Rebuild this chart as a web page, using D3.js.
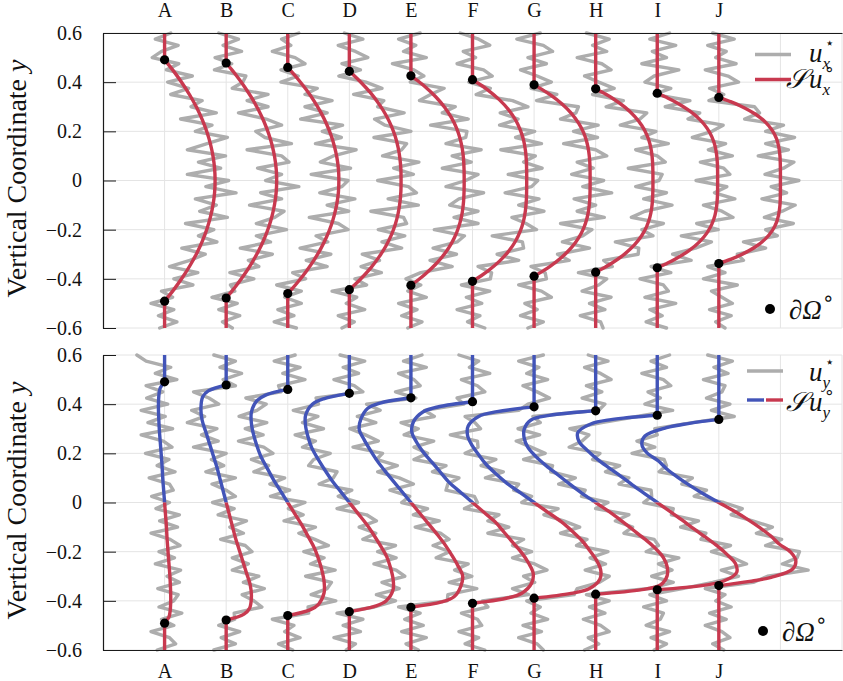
<!DOCTYPE html>
<html><head><meta charset="utf-8">
<script src="https://cdn.jsdelivr.net/npm/d3@7"></script>
<style>body{margin:0;background:#fff}svg{display:block}</style>
</head><body><svg id="c" width="843" height="681"></svg>
<script>
const categories = ["A","B","C","D","E","F","G","H","I","J"];
const positions = [1,2,3,4,5,6,7,8,9,10];
const gridSlots = [1,2,3,4,5,6,7,8,9,10,11,12];
const boundary = [0.491,0.478,0.46,0.444,0.426,0.41,0.389,0.373,0.355,0.338];
const yTicks = [0.6,0.4,0.2,0,-0.2,-0.4,-0.6];
const yTickLabels = ["0.6","0.4","0.2","0","\u22120.2","\u22120.4","\u22120.6"];
const etaNodes = [1,0.95,0.9,0.8,0.7,0.6,0.5,0.4,0.3,0.2,0.1,0,-0.1,-0.2,-0.3,-0.4,-0.5,-0.6,-0.7,-0.8,-0.9,-0.95,-1];

const fitUx = [
[0,.08,.156,.295,.418,.525,.615,.689,.746,.787,.812,.82,.812,.787,.746,.689,.615,.525,.418,.295,.156,.08,0],
[0,.08,.156,.295,.418,.525,.615,.689,.746,.787,.812,.82,.812,.787,.746,.689,.615,.525,.418,.295,.156,.08,0],
[0,.083,.161,.305,.431,.539,.63,.703,.759,.799,.823,.83,.823,.799,.759,.703,.63,.539,.431,.305,.161,.083,0],
[0,.097,.187,.349,.483,.594,.681,.747,.793,.822,.837,.84,.837,.822,.793,.747,.681,.594,.483,.349,.187,.097,0],
[0,.116,.221,.402,.547,.658,.741,.798,.835,.855,.863,.865,.863,.855,.835,.798,.741,.658,.547,.402,.221,.116,0],
[0,.129,.246,.439,.589,.70,.777,.829,.859,.874,.879,.88,.879,.874,.859,.829,.777,.70,.589,.439,.246,.129,0],
[0,.134,.254,.454,.609,.723,.804,.857,.888,.904,.909,.91,.909,.904,.888,.857,.804,.723,.609,.454,.254,.134,0],
[0,.14,.266,.474,.633,.749,.829,.881,.91,.924,.929,.93,.929,.924,.91,.881,.829,.749,.633,.474,.266,.14,0],
[0,.157,.295,.521,.689,.808,.887,.937,.963,.976,.98,.98,.98,.976,.963,.937,.887,.808,.689,.521,.295,.157,0],
[0,.186,.344,.59,.76,.87,.938,.974,.992,.998,1,1,1,.998,.992,.974,.938,.87,.76,.59,.344,.186,0]
];
const fitUy = [
[0,-.07,-.09,-.1,-.095,-.085,-.07,-.055,-.04,-.03,-.015,0,.015,.03,.04,.055,.07,.085,.095,.1,.09,.07,0],
[0,-.29,-.38,-.41,-.39,-.33,-.27,-.21,-.15,-.1,-.05,0,.05,.1,.15,.21,.27,.33,.39,.41,.38,.29,0],
[0,-.36,-.5,-.59,-.59,-.555,-.5,-.43,-.33,-.23,-.115,0,.115,.23,.33,.43,.5,.555,.59,.59,.5,.36,0],
[0,-.42,-.6,-.71,-.71,-.67,-.61,-.51,-.4,-.28,-.14,0,.14,.28,.4,.51,.61,.67,.71,.71,.6,.42,0],
[0,-.5,-.7,-.81,-.84,-.76,-.66,-.55,-.42,-.28,-.14,0,.14,.28,.42,.55,.66,.76,.84,.81,.7,.5,0],
[0,-.55,-.8,-.96,-.985,-.91,-.8,-.66,-.52,-.38,-.19,0,.19,.38,.52,.66,.8,.91,.985,.96,.8,.55,0],
[0,-.6,-.9,-1.07,-1.08,-1.01,-.9,-.78,-.62,-.44,-.22,0,.22,.44,.62,.78,.9,1.01,1.08,1.07,.9,.6,0],
[0,-.75,-1.05,-1.16,-1.16,-1.1,-.97,-.8,-.61,-.42,-.22,0,.22,.42,.61,.8,.97,1.1,1.16,1.16,1.05,.75,0],
[0,-.75,-1.08,-1.29,-1.27,-1.14,-.98,-.79,-.59,-.4,-.2,0,.2,.4,.59,.79,.98,1.14,1.27,1.29,1.08,.75,0],
[0,-.5,-.85,-1.2,-1.25,-1.17,-.98,-.84,-.66,-.46,-.24,0,.24,.46,.66,.84,.98,1.17,1.25,1.2,.85,.5,0]
];

const grayY = [0.6,0.575,0.55,0.525,0.5,0.475,0.45,0.425,0.4,0.375,0.35,0.325,0.3,0.275,0.25,0.225,0.2,0.175,0.15,0.125,0.1,0.075,0.05,0.025,0,-0.025,-0.05,-0.075,-0.1,-0.125,-0.15,-0.175,-0.2,-0.225,-0.25,-0.275,-0.3,-0.325,-0.35,-0.375,-0.4,-0.425,-0.45,-0.475,-0.5,-0.525,-0.55,-0.575,-0.6];

const grayUx = [
[.10,-.15,.22,-.05,-.20,.23,.03,.45,.05,.39,.10,.61,.43,.84,.26,.77,.50,1.02,.69,.37,.99,.55,.91,.37,1.04,.67,1.16,.50,.84,.57,1.02,.34,.80,.55,.85,.28,.66,.41,.08,.54,.15,.46,-.05,.13,-.22,.15,-.10,.20,-.08],
[-.12,.20,-.05,.25,-.18,.09,-.19,.32,.27,.10,.68,.34,.68,.20,.65,.90,.48,.63,1.06,.34,.90,1.02,.51,.90,.64,1.18,.56,.90,.38,.94,.79,.49,.98,.49,.72,.23,.75,.36,.53,.06,.45,.07,.14,-.23,.18,-.12,.22,-.06,.10],
[.18,-.10,.05,-.25,.12,.28,-.11,.17,-.11,.48,.28,.72,.28,.64,.21,.89,.56,.87,.45,1.11,.74,.53,1.02,.38,.98,.88,.52,1.09,.64,.99,.35,.82,.98,.46,.65,.20,.70,.30,.64,.08,.29,-.18,.22,-.05,.22,-.16,.10,-.22,.14],
[-.08,.22,-.18,.10,.30,-.12,.18,-.17,.27,.53,.07,.56,.46,.89,.41,.58,1.00,.40,.93,.85,.54,1.13,.72,1.04,.46,.96,1.09,.63,1.12,.35,.88,.93,.47,.90,.53,.85,.21,.49,.19,.52,.09,.28,-.28,.12,-.05,.25,-.18,.08,-.12],
[.15,-.20,.08,-.12,.25,-.30,.05,.21,-.01,.54,.32,.14,.72,.51,.93,.32,.91,.89,.57,1.14,.67,.98,.51,1.09,.89,.57,1.18,.78,.63,1.09,.70,1.09,.38,.87,.75,.36,.74,.31,.67,.16,-.08,.16,-.05,.25,-.20,.10,-.15,.18,-.05],
[-.20,.10,.28,-.15,.05,-.25,.18,.32,-.06,.29,.06,.65,.90,.45,.74,.44,1.01,.70,1.12,.46,1.02,.83,1.13,.58,1.06,.96,.53,1.08,.75,1.16,.64,.87,1.04,.32,.81,.83,.40,.75,.09,.31,.29,-.18,.28,-.10,.15,-.25,.12,-.08,.20],
[.10,-.28,.15,.30,-.10,.20,-.22,.05,.28,-.05,.37,.04,.72,.68,.43,1.04,.64,1.03,.48,1.00,1.18,.70,.96,.61,1.13,.79,1.26,.65,1.00,.70,1.14,.43,.94,.79,.46,.90,.38,.57,-.05,.18,.20,-.25,.12,.28,-.15,.05,-.22,.15,-.10],
[-.15,.22,-.05,.18,-.30,.10,.25,-.18,.05,.30,-.05,.45,.17,.83,.72,.40,.98,.75,1.18,.65,1.00,1.13,.53,1.08,1.03,.65,1.15,.78,1.24,.80,.58,1.10,.75,.93,.32,.70,.69,.13,.27,-.28,.18,.05,-.22,.25,-.10,.15,-.25,.08,.12],
[.20,-.12,.30,-.08,.15,-.25,.35,-.05,-.20,.22,-.05,.53,.13,.69,.50,1.07,.89,.57,1.11,.83,1.22,.70,1.08,1.18,.63,1.13,.93,1.26,.75,1.05,1.23,.64,.99,.39,.88,.62,.25,.55,-.10,.22,-.28,.10,.18,-.20,.30,-.12,.08,-.18,.15],
[-.10,.25,-.18,.12,-.05,.28,-.22,.15,.32,-.15,.08,-.16,.58,.66,.42,1.05,.76,1.23,.76,1.13,.64,1.22,1.05,.75,1.30,.85,1.10,.70,1.24,1.03,.74,1.21,.76,.95,.40,.76,.30,.40,-.18,.10,-.25,.30,-.12,.05,.22,-.15,.20,-.05,.10]
];
const grayUy = [
[-.45,-.30,.10,-.15,.20,-.30,-.03,-.29,.05,-.38,.01,-.27,.13,-.38,-.02,.12,-.31,.07,-.12,.17,-.25,.08,.14,-.21,.08,-.14,.24,-.08,.21,-.22,.09,.25,-.09,.16,-.15,.26,.04,.24,-.11,.22,.15,-.09,.28,-.05,.15,-.22,.08,.18,-.12],
[-.20,.15,-.10,.25,-.05,.15,-.53,-.28,-.12,-.56,-.35,-.63,-.15,-.40,-.13,-.53,0,-.24,-.04,-.33,.15,-.23,0,.15,-.22,.13,-.13,.33,.06,.28,-.09,.31,.42,.10,.36,.10,.53,.28,.62,.26,.45,.58,.13,.14,-.12,.22,-.08,.15,-.20],
[.12,-.22,.20,-.08,.28,-.15,-.11,-.68,-.35,-.50,-.79,-.34,-.69,-.40,-.80,-.39,-.24,-.59,-.31,-.55,-.05,-.29,.03,-.28,.28,.01,.25,-.06,.45,.18,.44,.66,.26,.59,.37,.77,.29,.71,.64,.38,.78,.33,.34,-.25,.10,-.05,.20,-.15,.08],
[-.15,.25,-.10,.15,-.25,.08,.22,-.54,-.50,-.91,-.51,-.76,-.42,-.88,-.55,-.76,-.31,-.58,-.66,-.20,-.26,-.49,.04,-.18,.15,-.20,.28,.44,.16,.43,.22,.75,.46,.76,.40,.76,.90,.53,.81,.44,.75,.41,-.20,.22,-.10,.18,-.25,.10,-.05],
[.18,-.12,.25,-.20,.05,.15,-.25,.08,-.72,-.50,-.87,-.57,-.99,-.74,-.53,-.94,-.46,-.56,-.22,-.54,-.19,.04,-.34,-.02,-.15,.27,.04,.46,.07,.48,.62,.36,.63,.41,.93,.71,.99,.62,1.07,.60,.59,-.20,.15,-.10,.20,-.15,.25,-.08,.12],
[-.22,.10,-.05,.28,-.18,.08,.20,-.25,-.14,-.78,-.62,-1.16,-.88,-1.11,-.63,-.95,-.73,-.95,-.43,-.65,-.22,-.40,-.43,.03,.08,-.13,.43,.25,.59,.25,.83,.65,.96,.65,1.01,1.21,.83,1.01,.65,.91,.16,.25,-.18,.08,.15,-.22,.10,-.12,.20],
[.15,-.25,.08,-.12,.22,-.18,.05,.25,-.10,-.25,-1.12,-.96,-.87,-1.36,-.92,-.91,-1.12,-.62,-.86,-.50,-.79,-.25,-.33,-.04,-.20,.39,.16,.48,.74,.43,.86,.69,1.20,.91,1.16,.83,1.22,1.06,.70,.65,-.12,.10,-.05,.22,-.18,.12,-.25,.05,.15],
[-.12,.20,-.18,.08,.25,-.15,.10,-.22,.15,.05,-1.02,-.90,-1.26,-.91,-1.29,-1.05,-.82,-1.17,-.70,-.73,-.33,-.60,-.17,-.23,.20,0,.54,.32,.60,.46,.95,1.02,.82,1.35,1.02,1.24,.91,1.26,.87,-.15,.22,-.10,.15,-.20,.08,.22,-.12,.05,-.18],
[.20,-.10,.15,-.25,.10,.22,-.15,.05,-.20,.25,-.33,-.90,-1.42,-1.11,-1.22,-1.43,-.93,-1.05,-.61,-.84,-.46,-.62,-.10,-.09,-.22,.26,.23,.67,.38,.79,.71,1.19,.88,1.23,1.45,1.04,1.32,.90,.41,-.12,.15,-.22,.10,.05,-.18,.20,-.10,.15,-.05],
[-.18,.22,-.08,.15,-.25,.10,.05,-.20,.18,-.12,.25,-.43,-1.04,-1.00,-1.33,-1.04,-1.41,-.89,-.85,-.97,-.43,-.60,-.20,-.40,.08,.38,.20,.55,.87,.61,1.02,.76,1.31,1.27,1.03,1.45,.79,.56,-.22,.10,-.05,.20,-.15,.12,-.22,.05,.18,-.10,.08]
];

const RED = "#c8394f", BLUE = "#4254b8", GRAY = "#adadad", GRID = "#e4e4e4", AX = "#1a1a1a";
const SERIF = "'Liberation Serif','DejaVu Serif',serif";
const svg = d3.select("#c");
const defs = svg.append("defs");
const x = d3.scaleLinear().domain([0, 12]).range([103, 842]);

const panels = [
  {top: 33, bottom: 328, fit: fitUx, gray: grayUx, split: false, key: "x"},
  {top: 355, bottom: 650, fit: fitUy, gray: grayUy, split: true, key: "y"}
];

panels.forEach((p, pi) => {
  const y = d3.scaleLinear().domain([-0.6, 0.6]).range([p.bottom, p.top]);
  const g = svg.append("g");

  g.append("g").selectAll("line").data(yTicks).join("line")
    .attr("x1", x(0)).attr("x2", x(12)).attr("y1", d => y(d)).attr("y2", d => y(d))
    .attr("stroke", GRID).attr("stroke-width", 1);
  g.append("g").selectAll("line").data(gridSlots).join("line")
    .attr("x1", d => x(d)).attr("x2", d => x(d)).attr("y1", y(0.6)).attr("y2", y(-0.6))
    .attr("stroke", GRID).attr("stroke-width", 1);

  const gl = d3.line().x(d => x(d[0])).y(d => y(d[1])).curve(d3.curveLinear);
  g.append("g").selectAll("path").data(p.gray).join("path")
    .attr("d", (arr, i) => gl(arr.map((v, k) => [positions[i] + v, grayY[k]])))
    .attr("fill", "none").attr("stroke", GRAY).attr("stroke-width", 3.4)
    .attr("stroke-linejoin", "round").attr("stroke-linecap", "round");

  const vg = g.append("g");
  positions.forEach((pos, i) => {
    vg.append("line").attr("x1", x(pos)).attr("x2", x(pos))
      .attr("y1", y(0.6)).attr("y2", y(boundary[i]))
      .attr("stroke", p.split ? BLUE : RED).attr("stroke-width", 3.4);
    vg.append("line").attr("x1", x(pos)).attr("x2", x(pos))
      .attr("y1", y(-boundary[i])).attr("y2", y(-0.6))
      .attr("stroke", RED).attr("stroke-width", 3.4);
  });

  const cl = d3.line().x(d => x(d[0])).y(d => y(d[1])).curve(d3.curveCatmullRom.alpha(0.5));
  const fitPts = p.fit.map((arr, i) => arr.map((v, j) => [positions[i] + v, etaNodes[j] * boundary[i]]));
  if (!p.split) {
    g.append("g").selectAll("path").data(fitPts).join("path")
      .attr("d", cl).attr("fill", "none").attr("stroke", RED).attr("stroke-width", 3.4)
      .attr("stroke-linecap", "round");
  } else {
    const idU = "clipU" + pi, idD = "clipD" + pi;
    defs.append("clipPath").attr("id", idU).append("rect")
      .attr("x", 0).attr("width", 843).attr("y", p.top - 20).attr("height", y(0) - (p.top - 20));
    defs.append("clipPath").attr("id", idD).append("rect")
      .attr("x", 0).attr("width", 843).attr("y", y(0)).attr("height", p.bottom + 20 - y(0));
    g.append("g").attr("clip-path", `url(#${idU})`).selectAll("path").data(fitPts).join("path")
      .attr("d", cl).attr("fill", "none").attr("stroke", BLUE).attr("stroke-width", 3.4)
      .attr("stroke-linecap", "round");
    g.append("g").attr("clip-path", `url(#${idD})`).selectAll("path").data(fitPts).join("path")
      .attr("d", cl).attr("fill", "none").attr("stroke", RED).attr("stroke-width", 3.4)
      .attr("stroke-linecap", "round");
  }

  const dots = [];
  positions.forEach((pos, i) => { dots.push([pos, boundary[i]]); dots.push([pos, -boundary[i]]); });
  g.append("g").selectAll("circle").data(dots).join("circle")
    .attr("cx", d => x(d[0])).attr("cy", d => y(d[1])).attr("r", 4.6).attr("fill", "#000");

  const ax = g.append("g").attr("transform", `translate(${x(0)},0)`)
    .call(d3.axisLeft(y).tickValues(yTicks).tickFormat((d, i) => yTickLabels[i])
      .tickSize(-13).tickSizeOuter(0).tickPadding(21));
  ax.select(".domain").attr("stroke", AX).attr("stroke-width", 1.2);
  ax.selectAll(".tick line").attr("stroke", AX).attr("stroke-width", 1);
  ax.selectAll("text").attr("font-family", SERIF).attr("font-size", 20).attr("fill", "#111");

  if (pi === 0) {
    const tx = g.append("g").attr("transform", `translate(0,${p.top})`)
      .call(d3.axisTop(x).tickValues(positions).tickFormat((d, i) => categories[i])
        .tickSize(0).tickSizeOuter(0).tickPadding(16));
    tx.select(".domain").attr("stroke", AX).attr("stroke-width", 1.2);
    tx.selectAll("text").attr("font-family", SERIF).attr("font-size", 20).attr("fill", "#111");
  } else {
    const bx = g.append("g").attr("transform", `translate(0,${p.bottom})`)
      .call(d3.axisBottom(x).tickValues(positions).tickFormat((d, i) => categories[i])
        .tickSize(0).tickSizeOuter(0).tickPadding(14));
    bx.select(".domain").attr("stroke", AX).attr("stroke-width", 1.2);
    bx.selectAll("text").attr("font-family", SERIF).attr("font-size", 20).attr("fill", "#111");
  }

  const t = g.append("text")
    .attr("transform", `translate(26,${(p.top + p.bottom) / 2 - 2}) rotate(-90)`)
    .attr("text-anchor", "middle").attr("font-family", SERIF).attr("font-size", 28).attr("fill", "#111");
  t.append("tspan").text("Vertical Coordinate ");
  t.append("tspan").attr("font-style", "italic").text("y");

  const lg = g.append("g").attr("font-family", SERIF).attr("fill", "#111");
  const r1 = pi === 0 ? 54.5 : 371, r2 = pi === 0 ? 79.5 : 400;
  const lx0 = pi === 0 ? 755 : 747, lx1 = pi === 0 ? 791 : 783;
  const b1 = pi === 0 ? 62 : 381, b2 = pi === 0 ? 88 : 411;
  lg.append("line").attr("x1", lx0).attr("x2", lx1).attr("y1", r1).attr("y2", r1)
    .attr("stroke", GRAY).attr("stroke-width", 3.4);
  if (!p.split) {
    lg.append("line").attr("x1", lx0).attr("x2", lx1).attr("y1", r2).attr("y2", r2)
      .attr("stroke", RED).attr("stroke-width", 3.4);
  } else {
    const mid = (lx0 + lx1) / 2;
    lg.append("line").attr("x1", lx0).attr("x2", mid - 1).attr("y1", r2).attr("y2", r2)
      .attr("stroke", BLUE).attr("stroke-width", 3.4);
    lg.append("line").attr("x1", mid + 1).attr("x2", lx1).attr("y1", r2).attr("y2", r2)
      .attr("stroke", RED).attr("stroke-width", 3.4);
  }
  const e1 = lg.append("text").attr("x", 809).attr("y", b1).attr("font-size", 27).attr("font-style", "italic");
  e1.append("tspan").text("u");
  e1.append("tspan").attr("font-size", 17).attr("dy", 7).text(p.key);
  e1.append("tspan").attr("x", 825).attr("dy", -21).attr("font-size", 15).attr("font-style", "normal")
    .attr("font-family", "'DejaVu Sans'").text("\u22C6");
  const e2 = lg.append("text").attr("x", 786).attr("y", b2).attr("font-size", 27).attr("font-style", "italic");
  e2.append("tspan").text("\uD835\uDCAE");
  e2.append("tspan").attr("x", 809).text("u");
  e2.append("tspan").attr("font-size", 17).attr("dy", 7).text(p.key);
  e2.append("tspan").attr("x", 824).attr("dy", -20).attr("font-size", 17).attr("font-style", "normal")
    .attr("font-family", "'DejaVu Sans'").text("\u2218");

  const dy = pi === 0 ? 309 : 631, dx = pi === 0 ? 770 : 763;
  lg.append("circle").attr("cx", dx).attr("cy", dy).attr("r", 5).attr("fill", "#000");
  const bt = lg.append("text").attr("x", dx + 19).attr("y", dy + 10).attr("font-size", 27).attr("font-style", "italic");
  bt.append("tspan").text("\u2202\u03A9");
  bt.append("tspan").attr("font-size", 20).attr("font-style", "normal").attr("font-family", "'DejaVu Sans'").attr("dy", -14).text("\u2218");
});
</script>
</body></html>
